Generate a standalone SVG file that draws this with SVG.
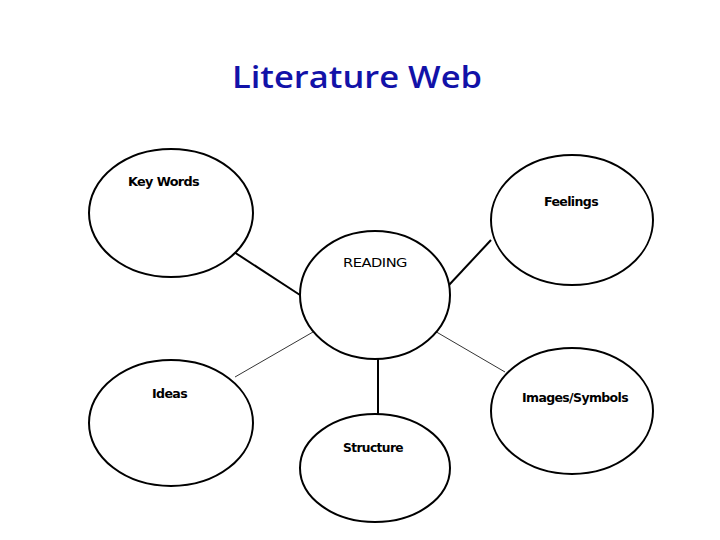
<svg xmlns="http://www.w3.org/2000/svg" width="720" height="540" viewBox="0 0 720 540">
<style>
.n{fill:#fff;stroke:#000;stroke-width:2}
.l{font-family:"DejaVu Sans","Liberation Sans",sans-serif;font-size:12px;font-weight:bold;fill:#000;letter-spacing:-0.6px}
.r{font-family:"DejaVu Sans","Liberation Sans",sans-serif;font-size:12px;fill:#000;letter-spacing:-0.4px}
.thick{stroke:#000;stroke-width:2;fill:none}
.thin{stroke:#000;stroke-width:0.8;fill:none}
</style>
<rect width="720" height="540" fill="#fff"/>
<text x="357" y="88" text-anchor="middle" font-family="'Open Sans','Liberation Sans',sans-serif" font-size="31" font-weight="600" fill="#1212a8" textLength="250" lengthAdjust="spacingAndGlyphs">Literature Web</text>
<g id="connectors">
<line class="thick" x1="234" y1="252" x2="300" y2="295"/>
<line class="thick" x1="491" y1="240" x2="449" y2="285"/>
<line class="thin" x1="235" y1="377" x2="313" y2="332"/>
<line class="thin" x1="433" y1="330" x2="505" y2="372"/>
<line class="thick" x1="378" y1="359" x2="378" y2="414"/>
</g>
<g id="keywords"><ellipse class="n" cx="171" cy="213" rx="82" ry="64"/><text class="l" x="128" y="186" textLength="71" lengthAdjust="spacingAndGlyphs">Key Words</text></g>
<g id="feelings"><ellipse class="n" cx="572" cy="220" rx="81" ry="65"/><text class="l" x="544" y="206" textLength="54" lengthAdjust="spacingAndGlyphs">Feelings</text></g>
<g id="reading"><ellipse class="n" cx="375" cy="295" rx="75" ry="64"/><text class="r" x="343" y="267" textLength="64" lengthAdjust="spacingAndGlyphs">READING</text></g>
<g id="ideas"><ellipse class="n" cx="171" cy="423" rx="82" ry="63"/><text class="l" x="152" y="398" textLength="35" lengthAdjust="spacingAndGlyphs">Ideas</text></g>
<g id="images"><ellipse class="n" cx="572" cy="411" rx="81" ry="63"/><text class="l" x="522" y="402" textLength="106" lengthAdjust="spacingAndGlyphs">Images/Symbols</text></g>
<g id="structure"><ellipse class="n" cx="375" cy="468" rx="75" ry="54"/><text class="l" x="343" y="452" textLength="60" lengthAdjust="spacingAndGlyphs">Structure</text></g>
</svg>
